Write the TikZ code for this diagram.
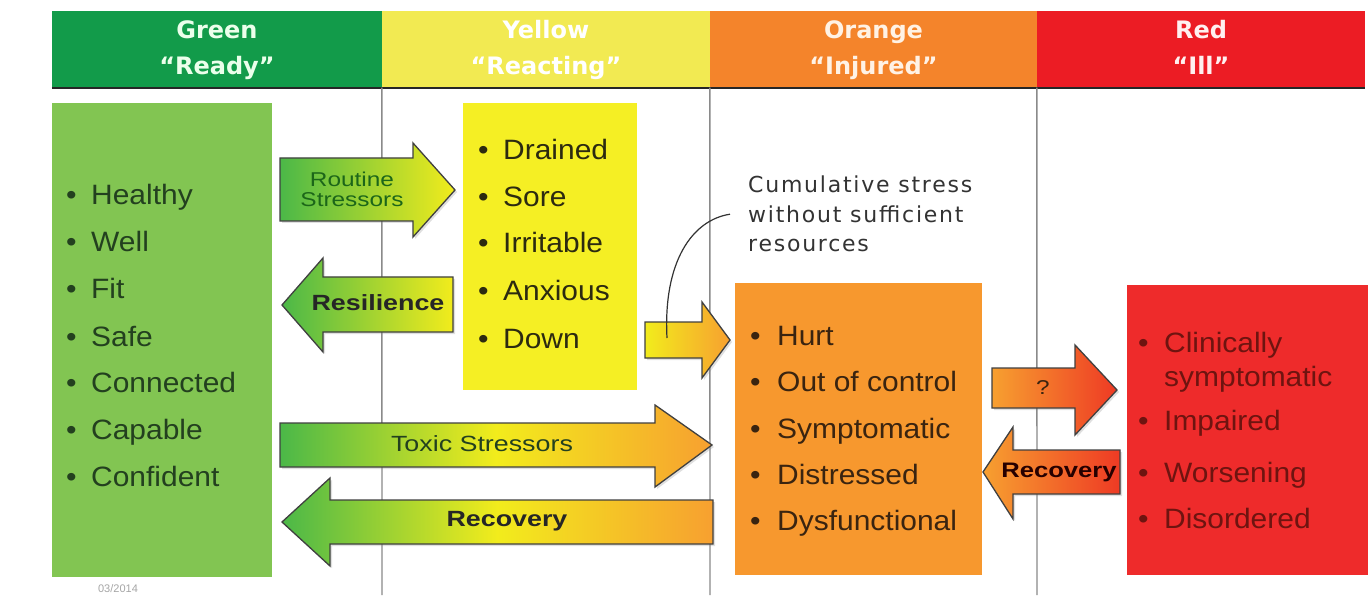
\documentclass[tikz,border=0pt]{standalone}
\usepackage{fontspec}
\setmainfont{Liberation Sans}
\newfontfamily\hdfont{DejaVu Sans}
\newfontfamily\cumfont[LetterSpace=8]{DejaVu Sans}
\newfontfamily\widefont[FakeStretch=1.22]{Liberation Sans}
\newfontfamily\itemfont[FakeStretch=1.07]{Liberation Sans}
\usetikzlibrary{shadows}
\definecolor{hgreen}{HTML}{129B4A}
\definecolor{hyellow}{HTML}{F2EA52}
\definecolor{horange}{HTML}{F4842B}
\definecolor{hred}{HTML}{EC1C24}
\definecolor{bgreen}{HTML}{82C552}
\definecolor{byellow}{HTML}{F5EF24}
\definecolor{borange}{HTML}{F7982E}
\definecolor{bred}{HTML}{EE2B2B}
\definecolor{agreen}{HTML}{4BB848}
\definecolor{ayellow}{HTML}{F2EC1C}
\definecolor{aorange}{HTML}{F7A030}
\definecolor{ared}{HTML}{EE3A24}
\definecolor{gtext}{HTML}{23401F}
\definecolor{ytext}{HTML}{2C2A10}
\definecolor{otext}{HTML}{3A2410}
\definecolor{rtext}{HTML}{6E1410}
\definecolor{divgray}{HTML}{8A8A8A}
\begin{document}
\begin{tikzpicture}[x=1pt,y=-1pt,
  hdrcell/.style={minimum height=76, inner sep=0, align=center,
    font=\hdfont\bfseries\fontsize{24}{36}\selectfont},
  colbox/.style={anchor=north west, inner sep=0, draw=none},
  divline/.style={draw=divgray, line width=1.4pt},
  itemtxt/.style={anchor=base west, inner sep=0, font=\itemfont\fontsize{28}{34}\selectfont},
  blockarr/.style={draw=black!75, line width=1.3pt, line join=miter,
    drop shadow={opacity=0.25, shadow xshift=2pt, shadow yshift=-2pt}},
  lbl/.style={inner sep=0, align=center},
]
\fill[white] (0,0) rectangle (1372,601);
\useasboundingbox (0,0) rectangle (1372,601);

% header
\node[hdrcell, fill=hgreen, minimum width=330, text=green!8] (hg) at (217,49.5) {Green\strut\\“Ready”\strut};
\node[hdrcell, fill=hyellow, minimum width=328, text=white] (hy) at (546,49.5) {Yellow\strut\\“Reacting”\strut};
\node[hdrcell, fill=horange, minimum width=327, text=orange!10] (ho) at (873.5,49.5) {Orange\strut\\“Injured”\strut};
\node[hdrcell, fill=hred, minimum width=328, text=red!6] (hr) at (1201,49.5) {Red\strut\\“Ill”\strut};
\draw[line width=2pt, black!85] (hg.south west) -- (hr.south east);

% dividers
\coordinate (d1) at (382,595);
\coordinate (d2) at (710,595);
\coordinate (d3) at (1037,595);
\draw[divline] (hy.south west) -- (d1);
\draw[divline] (ho.south west) -- (d2);
\draw[divline] (hr.south west) -- (d3);

% boxes
\node[colbox, fill=bgreen, minimum width=220, minimum height=474] (gbox) at (52,103) {};
\node[colbox, fill=byellow, minimum width=174, minimum height=287] (ybox) at (463,103) {};
\node[colbox, fill=borange, minimum width=247, minimum height=292] (obox) at (735,283) {};
\node[colbox, fill=bred, minimum width=241, minimum height=290] (rbox) at (1127,285) {};

% items
\foreach \t/\yy [count=\i] in {Healthy/205, Well/252, Fit/299, Safe/346, Connected/392, Capable/439, Confident/486}
  \node[itemtxt, text=gtext] (g\i) at (66,\yy) {\makebox[25pt][l]{•}\t};
\foreach \t/\yy [count=\i] in {Drained/160, Sore/207, Irritable/253, Anxious/301, Down/348}
  \node[itemtxt, text=ytext] (y\i) at (478,\yy) {\makebox[25pt][l]{•}\t};
\foreach \t/\yy [count=\i] in {Hurt/345, Out of control/391, Symptomatic/438, Distressed/484, Dysfunctional/530}
  \node[itemtxt, text=otext] (o\i) at (750,\yy) {\makebox[27pt][l]{•}\t};
\foreach \t/\yy [count=\i] in {Clinically/352, Impaired/430, Worsening/482, Disordered/528}
  \node[itemtxt, text=rtext] (r\i) at (1138,\yy) {\makebox[26pt][l]{•}\t};
\node[itemtxt, text=rtext] (r1b) at (1164,386) {symptomatic};

% block arrows
\path[blockarr, left color=agreen, right color=ayellow]
  (280,158) -- (413,158) -- (413,143) -- (455,190) -- (413,237) -- (413,221) -- (280,221) -- cycle;
\node[lbl, text=gtext!80!green, font=\widefont\fontsize{20}{20}\selectfont] (routine) at (352,189) {Routine\\Stressors};

\path[blockarr, left color=agreen, right color=ayellow]
  (453,277) -- (323,277) -- (323,258) -- (282,305) -- (323,352) -- (323,332) -- (453,332) -- cycle;
\node[lbl, text=black!85, font=\widefont\bfseries\fontsize{22}{24}\selectfont] (resil) at (378,303) {Resilience};

\path[blockarr, left color=ayellow, right color=aorange]
  (645,322) -- (702,322) -- (702,302) -- (730,340) -- (702,378) -- (702,358) -- (645,358) -- cycle;
\coordinate (sm) at (667,338);

\path[blockarr, left color=agreen, right color=aorange, middle color=ayellow]
  (280,423) -- (655,423) -- (655,405) -- (712,445) -- (655,487) -- (655,467) -- (280,467) -- cycle;
\node[lbl, text=gtext, font=\widefont\fontsize{22}{24}\selectfont] (toxic) at (482,444) {Toxic Stressors};

\path[blockarr, left color=agreen, right color=aorange, middle color=ayellow]
  (713,500) -- (330,500) -- (330,478) -- (282,522) -- (330,566) -- (330,544) -- (713,544) -- cycle;
\node[lbl, text=black!85, font=\widefont\bfseries\fontsize{22}{24}\selectfont] (recov1) at (507,521) {Recovery};

\path[blockarr, left color=aorange, right color=ared]
  (992,368) -- (1075,368) -- (1075,345) -- (1117,390) -- (1075,435) -- (1075,408) -- (992,408) -- cycle;
\node[lbl, text=otext, font=\widefont\fontsize{20}{22}\selectfont] (qm) at (1043,388) {?};

\path[blockarr, left color=aorange, right color=ared]
  (1120,450) -- (1013,450) -- (1013,427) -- (983,472) -- (1013,519) -- (1013,494) -- (1120,494) -- cycle;
\node[lbl, text=black!85!red, font=\widefont\bfseries\fontsize{21}{24}\selectfont] (recov2) at (1059,472) {Recovery};

% annotation
\node[anchor=north west, inner xsep=18pt, inner ysep=0, align=left, text=black!80,
  font=\cumfont\fontsize{22}{29.5}\selectfont] (cum) at (730,176)
  {Cumulative stress\\without sufficient\\resources};
\draw[black!80, line width=1.2pt] (cum.west) .. controls (692,220) and (663,262) .. (sm);

% date
\node[text=black!35, font=\fontsize{11}{12}\selectfont, inner sep=0] (date) at (118,589) {03/2014};
\end{tikzpicture}
\end{document}
